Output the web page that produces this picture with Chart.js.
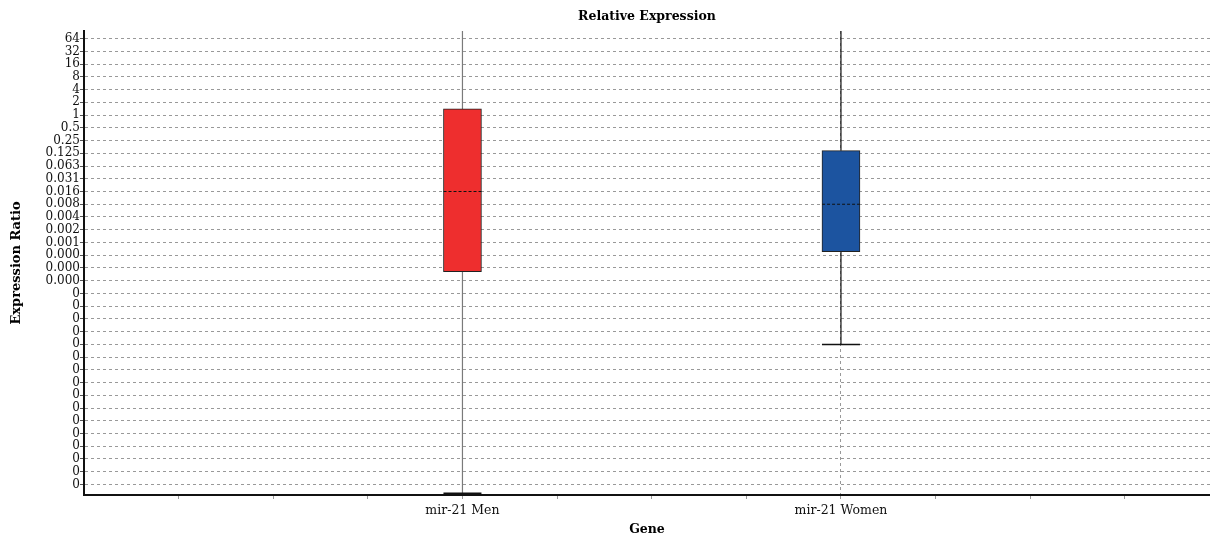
<!DOCTYPE html>
<html>
<head>
<meta charset="utf-8">
<script src="https://cdn.jsdelivr.net/npm/chart.js@4.4.1/dist/chart.umd.min.js"></script>
<style>
  html, body { margin: 0; padding: 0; background: #fff; }
  #wrap { width: 1210px; height: 537px; position: relative; }
</style>
</head>
<body>
<div id="wrap"><canvas id="boxChart"></canvas></div>
<script>
// === Données ===
const chartTitle = "Relative Expression";
const genes = ["mir-21 Men", "mir-21 Women"];
const genePos = [4, 8];                 // position on the x axis
const q1 = [0.0002, 0.00059];
const median = [0.0156, 0.0078];
const q3 = [1.4, 0.144];
const whiskerLow = [1.15e-9, 3.8e-6];
const whiskerHigh = [256, 256];         // goes past the top of the plot
const boxColors = ["#EE2E2E", "#1C54A0"];
const whiskerColors = ["#7a7a7a", "#111111"];

const yTickLabels = [
  "64", "32", "16", "8", "4", "2", "1", "0.5", "0.25", "0.125",
  "0.063", "0.031", "0.016", "0.008", "0.004", "0.002", "0.001",
  "0.000", "0.000", "0.000",
  "0", "0", "0", "0", "0", "0", "0", "0", "0", "0", "0", "0", "0", "0", "0", "0"
];
const yTopExp = 6;
const xTickValues = [1, 2, 3, 4, 5, 6, 7, 8, 9, 10, 11];

const FONT = "'DejaVu Serif', serif";
const halfBox = 0.2;

// titre centré sur la zone de tracé
const topTitle = {
  id: "topTitle",
  afterDraw(chart) {
    const { ctx, chartArea } = chart;
    ctx.save();
    ctx.font = "bold 12.5px " + FONT;
    ctx.fillStyle = "#000";
    ctx.textAlign = "center";
    ctx.textBaseline = "middle";
    ctx.fillText(chartTitle, (chartArea.left + chartArea.right) / 2, 17);
    ctx.restore();
  }
};

const datasets = [];

// boîtes
datasets.push({
  type: "bar",
  data: genePos.map((x, i) => ({ x: x, y: [q1[i], q3[i]] })),
  backgroundColor: boxColors,
  borderColor: "#222",
  borderWidth: 1,
  borderSkipped: false,
  barThickness: 38,
  order: 1
});

genePos.forEach((x, i) => {
  // moustaches
  datasets.push({
    type: "line",
    data: [
      { x: x, y: whiskerHigh[i] }, { x: x, y: q3[i] }, { x: x, y: null },
      { x: x, y: q1[i] }, { x: x, y: whiskerLow[i] }
    ],
    borderColor: whiskerColors[i],
    borderWidth: 1.2,
    pointRadius: 0,
    spanGaps: false,
    order: 2
  });
  // médiane
  datasets.push({
    type: "line",
    data: [{ x: x - halfBox, y: median[i] }, { x: x + halfBox, y: median[i] }],
    borderColor: "#111",
    borderWidth: 1,
    borderDash: [3, 2],
    pointRadius: 0,
    order: 0
  });
  // trait du minimum
  datasets.push({
    type: "line",
    data: [{ x: x, y: whiskerLow[i] }],
    showLine: false,
    pointStyle: "line",
    pointRadius: 19,
    pointBorderWidth: 1.5,
    pointBorderColor: "#111",
    order: 0
  });
});

new Chart(document.getElementById("boxChart"), {
  type: "bar",
  data: { datasets: datasets },
  options: {
    responsive: true,
    maintainAspectRatio: false,
    animation: false,
    layout: { autoPadding: false, padding: { top: 31, left: 9, right: 0, bottom: 0 } },
    plugins: {
      legend: { display: false },
      tooltip: { enabled: false }
    },
    scales: {
      x: {
        type: "linear",
        min: 0,
        max: 11.9,
        offset: false,
        afterBuildTicks: (scale) => {
          scale.ticks = xTickValues.map(v => ({ value: v }));
        },
        ticks: {
          autoSkip: false,
          maxRotation: 0,
          padding: 4,
          color: "#111",
          font: { family: FONT, size: 12.5 },
          callback: (v) => {
            const i = genePos.indexOf(v);
            return i >= 0 ? genes[i] : "";
          }
        },
        grid: {
          offset: false,
          color: (c) => (c.tick && genePos.includes(c.tick.value)) ? "#999" : "rgba(0,0,0,0)",
          tickColor: "#999",
          tickLength: 4
        },
        border: { display: true, color: "#111", width: 2, dash: [3, 3] },
        title: {
          display: true,
          text: "Gene",
          color: "#000",
          font: { family: FONT, size: 12.5, weight: "bold" },
          padding: { top: 0, bottom: 0 }
        }
      },
      y: {
        type: "logarithmic",
        min: Math.pow(2, -29.83),
        max: Math.pow(2, 6.6),
        afterBuildTicks: (scale) => {
          scale.ticks = yTickLabels.map((l, i) => ({ value: Math.pow(2, yTopExp - i) }));
        },
        ticks: {
          autoSkip: false,
          padding: 0,
          color: "#111",
          font: { family: FONT, size: 12 },
          callback: (v, i) => yTickLabels[i]
        },
        grid: {
          color: "#999",
          tickColor: "#555",
          tickLength: 4
        },
        border: { display: true, color: "#111", width: 2, dash: [3, 3] },
        title: {
          display: true,
          text: "Expression Ratio",
          color: "#000",
          font: { family: FONT, size: 13, weight: "bold" },
          padding: { top: 0, bottom: 21 }
        }
      }
    }
  },
  plugins: [topTitle]
});
</script>
</body>
</html>
